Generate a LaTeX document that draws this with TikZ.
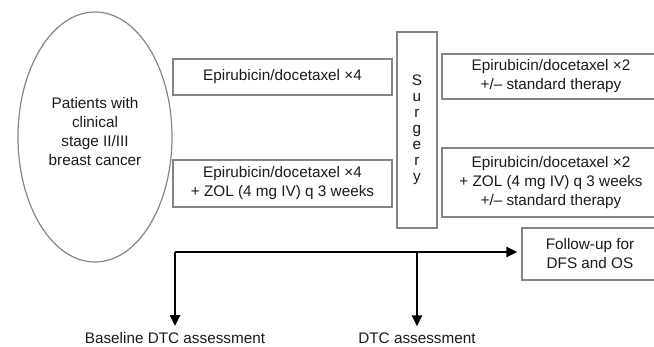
\documentclass[tikz,border=0pt]{standalone}
\usepackage{fontspec}
\setmainfont{Liberation Sans}
\usetikzlibrary{shapes.geometric,arrows.meta}
\definecolor{boxgray}{HTML}{858585}
\definecolor{txt}{HTML}{1A1A1A}
\begin{document}
\begin{tikzpicture}[x=1pt,y=-1pt,
  every node/.style={font=\fontsize{15.3}{19}\selectfont, text=txt},
  tbox/.style={draw=boxgray, line width=1.4pt, rectangle, inner sep=0pt, align=center},
  flow/.style={line width=2.4pt, black, arrows={-Triangle[length=11pt,width=10pt]}},
  lbl/.style={inner sep=0pt}]
\useasboundingbox (0,0) rectangle (654,346);
\clip (0,0) rectangle (654,346);
\node[ellipse, draw=boxgray, line width=1.2pt, minimum width=154pt, minimum height=250pt, inner sep=0pt] (pat) at (95,137) {};
\node[lbl, align=center] (pattxt) at (95,132) {Patients with\\clinical\\stage II/III\\breast cancer};
\node[tbox, minimum width=219pt, minimum height=36pt] (b1) at (282.5,77) {Epirubicin/docetaxel ×4};
\node[tbox, minimum width=219pt, minimum height=47pt] (b2) at (282.5,183.5) {Epirubicin/docetaxel ×4\\+ ZOL (4 mg IV) q 3 weeks};
\node[tbox, minimum width=40pt, minimum height=196pt, font=\fontsize{15.3}{16}\selectfont] (surg) at (417,130) {S\\u\\r\\g\\e\\r\\y};
\node[tbox, minimum width=218pt, minimum height=45pt] (r1) at (551,76.5) {Epirubicin/docetaxel ×2\\+/– standard therapy};
\node[tbox, minimum width=218pt, minimum height=69pt] (r2) at (551,182.5) {Epirubicin/docetaxel ×2\\+ ZOL (4 mg IV) q 3 weeks\\+/– standard therapy};
\node[tbox, minimum width=136pt, minimum height=52pt] (fu) at (590,254) {Follow-up for\\DFS and OS};
\node[lbl] (bl) at (175,338) {Baseline DTC assessment};
\node[lbl] (dtc) at (417,338) {DTC assessment};
\coordinate (corner) at (175,252);
\coordinate (mid) at (417,252);
\draw[flow, shorten >=4pt] (corner) -- (corner -| fu.west);
\draw[flow, shorten >=6pt] (corner) -- (bl.north);
\draw[flow, shorten >=6pt] (mid) -- (dtc.north);
\end{tikzpicture}
\end{document}
